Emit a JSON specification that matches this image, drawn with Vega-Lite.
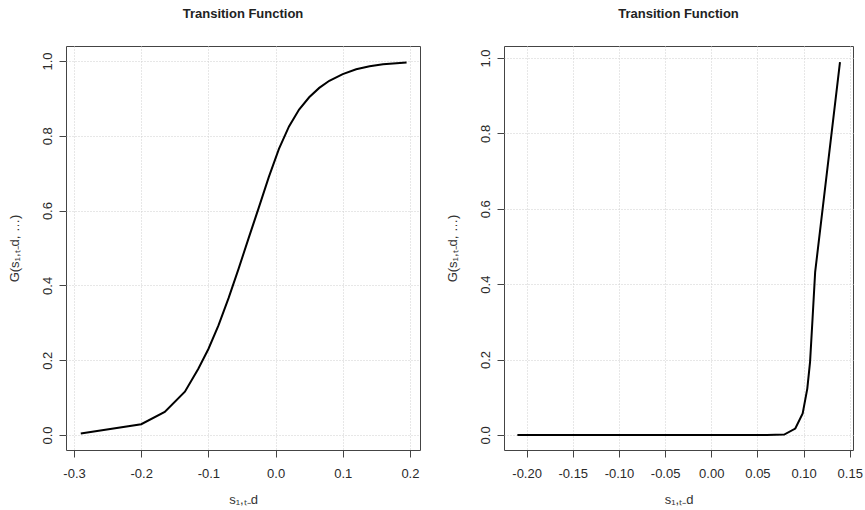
{
  "$schema": "https://vega.github.io/schema/vega-lite/v6.json",
  "background": "white",
  "padding": {"left": 7, "top": 7, "right": 2, "bottom": 5},
  "bounds": "flush",
  "spacing": 84,
  "datasets": {
    "left": [
      {"s": -0.29, "G": 0.004},
      {"s": -0.2, "G": 0.029},
      {"s": -0.165, "G": 0.062},
      {"s": -0.135, "G": 0.116},
      {"s": -0.115, "G": 0.177},
      {"s": -0.1, "G": 0.23},
      {"s": -0.085, "G": 0.293},
      {"s": -0.07, "G": 0.366},
      {"s": -0.055, "G": 0.445},
      {"s": -0.04, "G": 0.527},
      {"s": -0.025, "G": 0.608},
      {"s": -0.01, "G": 0.69},
      {"s": 0.005, "G": 0.765},
      {"s": 0.02, "G": 0.825},
      {"s": 0.035, "G": 0.87},
      {"s": 0.05, "G": 0.903},
      {"s": 0.065, "G": 0.928},
      {"s": 0.08, "G": 0.947},
      {"s": 0.1, "G": 0.965},
      {"s": 0.12, "G": 0.978},
      {"s": 0.14, "G": 0.986},
      {"s": 0.16, "G": 0.991},
      {"s": 0.195, "G": 0.996}
    ],
    "right": [
      {"s": -0.21, "G": 0},
      {"s": -0.17, "G": 0},
      {"s": -0.13, "G": 0},
      {"s": -0.09, "G": 0},
      {"s": -0.05, "G": 0},
      {"s": -0.01, "G": 0},
      {"s": 0.03, "G": 0},
      {"s": 0.06, "G": 0},
      {"s": 0.079, "G": 0.001},
      {"s": 0.091, "G": 0.017},
      {"s": 0.099, "G": 0.057},
      {"s": 0.104, "G": 0.123},
      {"s": 0.107, "G": 0.194},
      {"s": 0.1097, "G": 0.309},
      {"s": 0.1125, "G": 0.432},
      {"s": 0.1394, "G": 0.989}
    ]
  },
  "hconcat": [
    {
      "width": 354,
      "height": 404,
      "title": {"text": "Transition Function"},
      "data": {"name": "left"},
      "mark": {"type": "line", "color": "black", "strokeWidth": 2},
      "encoding": {
        "x": {
          "field": "s", "type": "quantitative",
          "scale": {"domain": [-0.312, 0.215], "nice": false, "zero": false},
          "axis": {"values": [-0.3, -0.2, -0.1, 0, 0.1, 0.2], "labelExpr": "replace(format(datum.value, '.1f'), '−', '-')", "title": "s₁,ₜ₋d"}
        },
        "y": {
          "field": "G", "type": "quantitative",
          "scale": {"domain": [-0.04, 1.04], "nice": false, "zero": false},
          "axis": {"values": [0, 0.2, 0.4, 0.6, 0.8, 1.0], "format": ".1f", "title": "G(s₁,ₜ₋d, …)"}
        }
      }
    },
    {
      "width": 349,
      "height": 404,
      "title": {"text": "Transition Function"},
      "data": {"name": "right"},
      "mark": {"type": "line", "color": "black", "strokeWidth": 2},
      "encoding": {
        "x": {
          "field": "s", "type": "quantitative",
          "scale": {"domain": [-0.2245, 0.1535], "nice": false, "zero": false},
          "axis": {"values": [-0.2, -0.15, -0.1, -0.05, 0, 0.05, 0.1, 0.15], "labelExpr": "replace(format(datum.value, '.2f'), '−', '-')", "title": "s₁,ₜ₋d"}
        },
        "y": {
          "field": "G", "type": "quantitative",
          "scale": {"domain": [-0.04, 1.032], "nice": false, "zero": false},
          "axis": {"values": [0, 0.2, 0.4, 0.6, 0.8, 1.0], "format": ".1f", "title": "G(s₁,ₜ₋d, …)"}
        }
      }
    }
  ],
  "config": {
    "view": {"stroke": "#444", "strokeWidth": 1},
    "axis": {
      "domain": false,
      "tickColor": "#444",
      "tickSize": 7,
      "labelFont": "Liberation Sans",
      "labelFontSize": 13,
      "labelColor": "#2a2a2a",
      "gridColor": "#cfcfcf",
      "gridDash": [1, 2],
      "gridWidth": 1,
      "titleFont": "Liberation Sans",
      "titleFontSize": 13,
      "titleFontWeight": "normal",
      "titleColor": "#333"
    },
    "axisX": {"labelPadding": 10, "titlePadding": 13, "labelFlush": false},
    "axisY": {"labelAngle": 270, "labelAlign": "center", "labelBaseline": "bottom", "labelPadding": 5, "titlePadding": 20, "labelFlush": false},
    "title": {"font": "Liberation Sans", "fontSize": 13, "fontWeight": "bold", "color": "#222", "anchor": "middle", "offset": 25, "baseline": "alphabetic"}
  }
}
